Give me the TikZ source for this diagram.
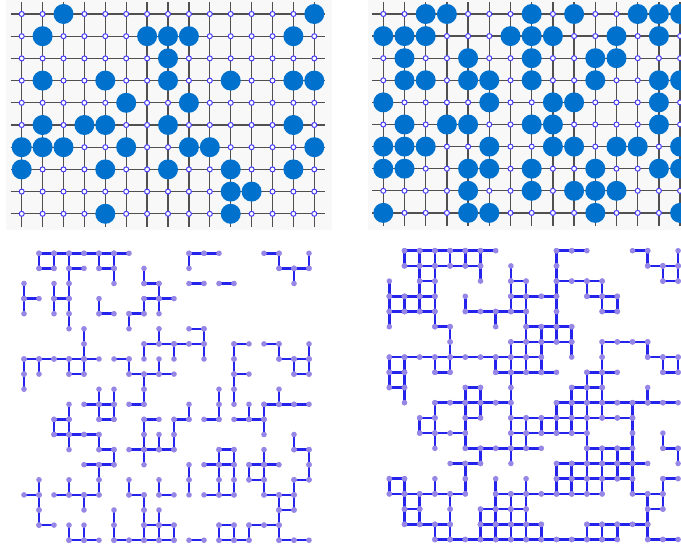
\documentclass[tikz,border=0pt]{standalone}
\usetikzlibrary{calc}

\definecolor{occblue}{RGB}{0,114,206}
\definecolor{siteblue}{RGB}{70,60,250}
\definecolor{gridgray}{RGB}{80,80,80}
\definecolor{bondblue}{RGB}{35,35,235}
\definecolor{dotlilac}{RGB}{150,135,230}
\definecolor{panelbg}{RGB}{248,248,248}

% occupied sites of the two site lattices (column/row)
\def\tlocc{2/0,14/0,1/1,6/1,7/1,8/1,13/1,7/2,1/3,4/3,7/3,10/3,13/3,14/3,5/4,8/4,
1/5,3/5,4/5,7/5,13/5,0/6,1/6,2/6,5/6,8/6,9/6,14/6,0/7,4/7,7/7,10/7,13/7,
10/8,11/8,4/9,10/9}
\def\trocc{2/0,3/0,7/0,9/0,12/0,13/0,14/0,0/1,1/1,2/1,6/1,7/1,8/1,11/1,13/1,
1/2,4/2,7/2,10/2,11/2,1/3,2/3,4/3,5/3,7/3,10/3,13/3,14/3,0/4,5/4,8/4,9/4,13/4,
1/5,3/5,4/5,7/5,8/5,13/5,0/6,1/6,2/6,5/6,8/6,9/6,11/6,12/6,14/6,
0/7,1/7,4/7,5/7,7/7,10/7,13/7,14/7,4/8,7/8,9/8,10/8,11/8,0/9,4/9,5/9,10/9,14/9}

% open bonds of the two bond lattices: h = (c,r)--(c+1,r), v = (c,r)--(c,r+1)
\def\blh{1/0,2/0,3/0,4/0,5/0,6/0,11/0,12/0,16/0,1/1,3/1,5/1,17/1,18/1,
8/2,11/2,13/2,0/3,2/3,8/3,9/3,5/4,7/4,11/5,8/6,9/6,10/6,11/6,14/6,16/6,
0/7,1/7,2/7,3/7,4/7,6/7,17/7,18/7,3/8,7/8,8/8,9/8,14/8,18/8,
4/10,5/10,7/10,16/10,17/10,18/10,2/11,5/11,8/11,10/11,12/11,14/11,15/11,
2/12,3/12,4/12,5/13,7/13,8/13,9/13,13/13,18/13,4/14,5/14,12/14,13/14,15/14,16/14,
15/15,18/15,0/16,2/16,3/16,4/16,7/16,9/16,12/16,13/16,16/16,17/16,17/17,
1/18,8/18,9/18,13/18,15/18,16/18,3/19,4/19,6/19,7/19,8/19,9/19,11/19,13/19,14/19,17/19,18/19}
\def\blv{0/2,0/3,0/7,0/8,1/0,1/7,1/15,1/16,1/17,2/0,2/2,2/3,2/11,
3/0,3/1,3/2,3/3,3/4,3/7,3/10,3/11,3/12,3/15,3/18,4/5,4/6,4/7,4/16,4/18,
5/0,5/3,5/9,5/10,5/12,5/14,5/15,6/0,6/1,6/9,6/10,6/13,6/17,6/18,7/4,7/7,7/15,
8/1,8/3,8/6,8/8,8/9,8/11,8/12,8/13,8/16,8/17,8/18,9/2,9/3,9/5,9/7,9/12,9/15,9/17,9/18,
10/6,10/11,10/12,10/18,11/0,11/10,11/14,11/15,12/5,12/6,
13/9,13/10,13/13,13/14,13/15,13/18,14/6,14/7,14/8,14/9,14/13,14/14,14/15,14/18,
15/10,15/14,15/18,16/10,16/11,16/13,16/14,16/15,17/0,17/6,17/9,17/16,17/17,17/18,
18/1,18/7,18/12,18/15,18/16,19/0,19/6,19/7,19/13,19/14}
\def\brh{1/0,2/0,3/0,4/0,5/0,6/0,11/0,12/0,16/0,1/1,2/1,3/1,4/1,5/1,17/1,18/1,
2/2,8/2,11/2,12/2,13/2,18/2,0/3,1/3,2/3,8/3,9/3,10/3,13/3,14/3,
0/4,1/4,2/4,5/4,6/4,7/4,8/4,14/4,3/5,9/5,10/5,11/5,8/6,9/6,10/6,11/6,14/6,15/6,16/6,
0/7,1/7,2/7,3/7,4/7,5/7,6/7,7/7,8/7,9/7,17/7,18/7,0/8,3/8,7/8,8/8,9/8,10/8,13/8,14/8,18/8,
0/9,5/9,12/9,13/9,3/10,4/10,5/10,6/10,7/10,11/10,12/10,13/10,14/10,15/10,16/10,17/10,18/10,
2/11,5/11,8/11,9/11,10/11,11/11,12/11,13/11,14/11,15/11,2/12,3/12,4/12,8/12,9/12,10/12,11/12,12/12,
5/13,6/13,7/13,8/13,9/13,13/13,14/13,15/13,18/13,4/14,5/14,11/14,12/14,13/14,14/14,15/14,16/14,
0/15,11/15,12/15,13/15,14/15,15/15,18/15,
0/16,1/16,2/16,3/16,4/16,7/16,8/16,9/16,10/16,11/16,12/16,13/16,16/16,17/16,
1/17,6/17,7/17,8/17,17/17,1/18,2/18,3/18,6/18,7/18,8/18,9/18,13/18,14/18,15/18,16/18,
3/19,4/19,5/19,6/19,7/19,8/19,9/19,10/19,11/19,12/19,13/19,14/19,17/19,18/19}
\def\brv{0/2,0/3,0/4,0/7,0/8,0/15,1/0,1/3,1/7,1/8,1/9,1/15,1/16,1/17,
2/0,2/1,2/2,2/3,2/11,2/16,2/17,3/0,3/1,3/2,3/3,3/4,3/7,3/10,3/11,3/12,3/15,3/18,
4/0,4/5,4/6,4/7,4/16,4/17,4/18,5/0,5/3,5/9,5/10,5/11,5/12,5/14,5/15,
6/0,6/1,6/9,6/10,6/13,6/17,6/18,7/4,7/7,7/15,7/16,7/17,7/18,
8/1,8/2,8/3,8/6,8/7,8/8,8/9,8/10,8/11,8/12,8/13,8/16,8/17,8/18,
9/2,9/3,9/4,9/5,9/6,9/7,9/11,9/12,9/15,9/16,9/17,9/18,10/5,10/6,10/7,10/11,10/18,
11/0,11/1,11/2,11/3,11/4,11/5,11/10,11/11,11/14,11/15,12/5,12/6,12/9,12/10,12/11,12/14,12/15,
13/2,13/8,13/9,13/10,13/11,13/12,13/13,13/14,13/15,13/18,
14/2,14/3,14/6,14/7,14/8,14/9,14/10,14/13,14/14,14/15,14/18,15/3,15/13,15/14,15/18,
16/10,16/11,16/12,16/13,16/14,16/15,17/0,17/6,17/9,17/16,17/17,17/18,
18/1,18/7,18/12,18/15,18/16,19/0,19/1,19/7,19/13}

\begin{document}
\begin{tikzpicture}[x=1pt,y=-1pt,
    gridline/.style={draw=gridgray,line width=1.3pt},
    site/.style={circle,draw=siteblue,fill=white,line width=1pt,inner sep=0pt,minimum size=5pt},
    bond/.style={draw=bondblue,line width=2.5pt},
    vertexdot/.style={fill=dotlilac}]
    \useasboundingbox (0,0) rectangle (681,554);
    \fill[panelbg] (6,0) rectangle (332,230);
    \fill[panelbg] (368,0) rectangle (681,230);

    % site lattice, left
    \foreach \c in {0,...,14} \foreach \r in {0,...,9}
        \coordinate (tl-\c-\r) at ({21.7+20.9*\c},{14+22.2*\r});
    \foreach \c in {0,...,14} \draw[gridline] ($(tl-\c-0)+(0,-12)$) -- ($(tl-\c-9)+(0,13)$);
    \foreach \r in {0,...,9} \draw[gridline] ($(tl-0-\r)+(-11,0)$) -- ($(tl-14-\r)+(11,0)$);
    \foreach \c in {0,...,14} \foreach \r in {0,...,9}
        \node[site] (tls-\c-\r) at (tl-\c-\r) {};
    \foreach \c/\r in \tlocc \fill[occblue] (tl-\c-\r) circle (10pt);

    % site lattice, right
    \foreach \c in {0,...,14} \foreach \r in {0,...,9}
        \coordinate (tr-\c-\r) at ({383.3+21.2*\c},{14+22.1*\r});
    \foreach \c in {0,...,14} \draw[gridline] ($(tr-\c-0)+(0,-12)$) -- ($(tr-\c-9)+(0,13)$);
    \foreach \r in {0,...,9} \draw[gridline] ($(tr-0-\r)+(-11,0)$) -- ($(tr-14-\r)+(11,0)$);
    \foreach \c in {0,...,14} \foreach \r in {0,...,9}
        \node[site] (trs-\c-\r) at (tr-\c-\r) {};
    \foreach \c/\r in \trocc \fill[occblue] (tr-\c-\r) circle (10pt);

    % bond lattice, left
    \foreach \c in {0,...,19} \foreach \r in {0,...,19}
        \coordinate (bl-\c-\r) at ({24+15*\c},{253.3+15.1*\r});
    \foreach \c/\r [evaluate=\c as \cn using {int(\c+1)}] in \blh
        \draw[bond] (bl-\c-\r) -- (bl-\cn-\r);
    \foreach \c/\r [evaluate=\r as \rn using {int(\r+1)}] in \blv
        \draw[bond] (bl-\c-\r) -- (bl-\c-\rn);
    \foreach \c/\r [evaluate=\c as \cn using {int(\c+1)}] in \blh
        \fill[vertexdot] (bl-\c-\r) circle (2.8pt) (bl-\cn-\r) circle (2.8pt);
    \foreach \c/\r [evaluate=\r as \rn using {int(\r+1)}] in \blv
        \fill[vertexdot] (bl-\c-\r) circle (2.8pt) (bl-\c-\rn) circle (2.8pt);

    % bond lattice, right
    \foreach \c in {0,...,19} \foreach \r in {0,...,19}
        \coordinate (br-\c-\r) at ({389.3+15.2*\c},{250.7+15.2*\r});
    \foreach \c/\r [evaluate=\c as \cn using {int(\c+1)}] in \brh
        \draw[bond] (br-\c-\r) -- (br-\cn-\r);
    \foreach \c/\r [evaluate=\r as \rn using {int(\r+1)}] in \brv
        \draw[bond] (br-\c-\r) -- (br-\c-\rn);
    \foreach \c/\r [evaluate=\c as \cn using {int(\c+1)}] in \brh
        \fill[vertexdot] (br-\c-\r) circle (2.8pt) (br-\cn-\r) circle (2.8pt);
    \foreach \c/\r [evaluate=\r as \rn using {int(\r+1)}] in \brv
        \fill[vertexdot] (br-\c-\r) circle (2.8pt) (br-\c-\rn) circle (2.8pt);
\end{tikzpicture}
\end{document}
